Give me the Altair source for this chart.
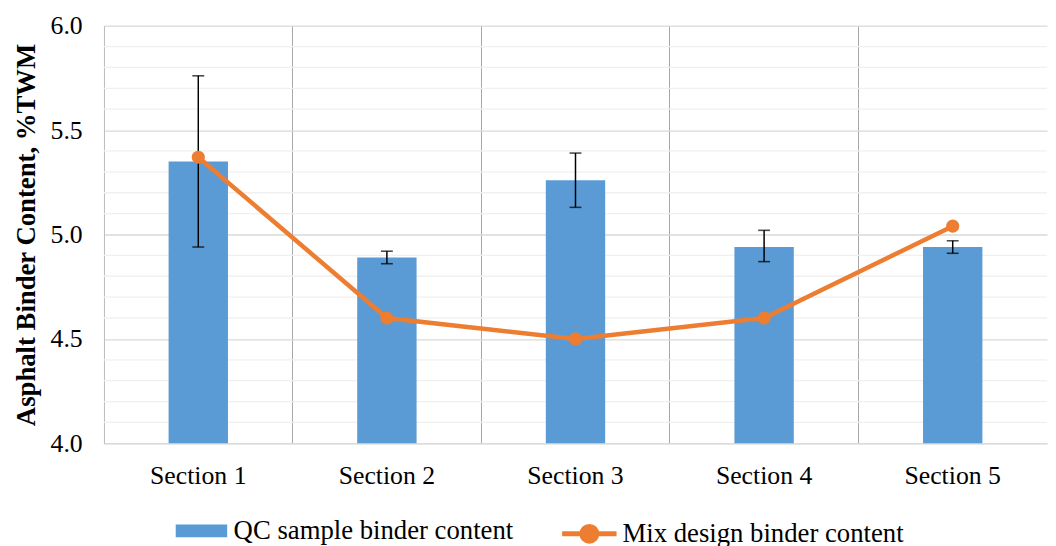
import altair as alt
import pandas as pd

sections = ["Section 1", "Section 2", "Section 3", "Section 4", "Section 5"]
qc_mean = [5.35, 4.89, 5.26, 4.94, 4.94]
qc_high = [5.76, 4.92, 5.39, 5.02, 4.97]
qc_low = [4.94, 4.86, 5.13, 4.87, 4.91]
mix_design = [5.37, 4.60, 4.50, 4.60, 5.04]
major_ticks = [4.0, 4.5, 5.0, 5.5, 6.0]
minor_ticks = [4.1, 4.2, 4.3, 4.4, 4.6, 4.7, 4.8, 4.9, 5.1, 5.2, 5.3, 5.4, 5.6, 5.7, 5.8, 5.9]

QC_LABEL = "QC sample binder content"
MIX_LABEL = "Mix design binder content"
BLUE = "#5B9BD5"
ORANGE = "#ED7D31"
FONT = "Liberation Serif"
FS = 26

df = pd.DataFrame({
    "section": sections,
    "qc": qc_mean,
    "hi": qc_high,
    "lo": qc_low,
    "mix": mix_design,
    "s1": [QC_LABEL] * len(sections),
    "s2": [MIX_LABEL] * len(sections),
})
minor_df = pd.DataFrame({"v": minor_ticks})

xscale = alt.Scale(domain=sections, paddingInner=0, paddingOuter=0)
yscale = alt.Scale(domain=[4.0, 6.0], nice=False, zero=False)

x_enc = alt.X(
    "section:N", scale=xscale, sort=sections, title=None,
    axis=alt.Axis(
        labelAngle=0, ticks=False, grid=True, bandPosition=0,
        gridColor="#a6a6a6", gridWidth=1,
        domainColor="#d9d9d9", domainWidth=1,
        labelFont=FONT, labelFontSize=FS, labelColor="#000000", labelPadding=20,
    ),
)
y_axis = alt.Axis(
    values=major_ticks, format=".1f", title="Asphalt Binder Content, %TWM",
    titleFont=FONT, titleFontSize=27, titleFontWeight="bold", titleColor="#000000",
    titlePadding=10,
    labelFont=FONT, labelFontSize=FS, labelColor="#000000", labelPadding=22,
    ticks=False, grid=True, gridColor="#d9d9d9", gridWidth=1.3,
    domainColor="#bfbfbf", domainWidth=1,
)

minor = alt.Chart(minor_df).mark_rule(color="#f0f0f0", strokeWidth=1.3).encode(
    y=alt.Y("v:Q", scale=yscale, axis=y_axis)
)

base = alt.Chart(df)

bars = base.mark_bar(size=60, clip=True).encode(
    x=x_enc,
    y=alt.Y("qc:Q", scale=yscale, axis=y_axis),
    fill=alt.Fill(
        "s1:N", scale=alt.Scale(domain=[QC_LABEL], range=[BLUE]),
        legend=alt.Legend(
            title=None, orient="none", legendX=85, legendY=497,
            symbolType="M-2,-0.5L2,-0.5L2,0.5L-2,0.5Z", symbolSize=676,
            symbolStrokeWidth=0, labelLimit=500,
            labelFont=FONT, labelFontSize=27, labelColor="#000000", labelOffset=19,
        ),
    ),
)

err = base.mark_rule(color="#000000", strokeWidth=1.5).encode(
    x=alt.X("section:N", scale=xscale, sort=sections),
    y=alt.Y("lo:Q", scale=yscale),
    y2="hi:Q",
)
cap_hi = base.mark_tick(color="#000000", size=12, thickness=1.6).encode(
    x=alt.X("section:N", scale=xscale, sort=sections),
    y=alt.Y("hi:Q", scale=yscale),
)
cap_lo = base.mark_tick(color="#000000", size=12, thickness=1.6).encode(
    x=alt.X("section:N", scale=xscale, sort=sections),
    y=alt.Y("lo:Q", scale=yscale),
)

line = base.mark_line(strokeWidth=4.5).encode(
    x=alt.X("section:N", scale=xscale, sort=sections),
    y=alt.Y("mix:Q", scale=yscale),
    stroke=alt.Stroke(
        "s2:N", scale=alt.Scale(domain=[MIX_LABEL], range=[ORANGE]),
        legend=alt.Legend(
            title=None, orient="none", legendX=474, legendY=497,
            symbolType="M-2,0L2,0M0.55,0A0.55,0.55 0 1 1 -0.55,0A0.55,0.55 0 1 1 0.55,0Z",
            symbolSize=756, symbolStrokeWidth=5, symbolFillColor=ORANGE,
            labelLimit=500,
            labelFont=FONT, labelFontSize=27, labelColor="#000000", labelOffset=17,
        ),
    ),
)
points = base.mark_circle(size=175, opacity=1, color=ORANGE).encode(
    x=alt.X("section:N", scale=xscale, sort=sections),
    y=alt.Y("mix:Q", scale=yscale),
)

chart = alt.layer(minor, bars, err, cap_hi, cap_lo, line, points).resolve_legend(
    fill="independent", stroke="independent"
).properties(
    width=953, height=422,
    padding={"left": 4, "top": 2, "right": 0, "bottom": 0},
).configure_view(stroke=None)

chart.save("out.html", embed_options={"renderer": "svg", "actions": False})
